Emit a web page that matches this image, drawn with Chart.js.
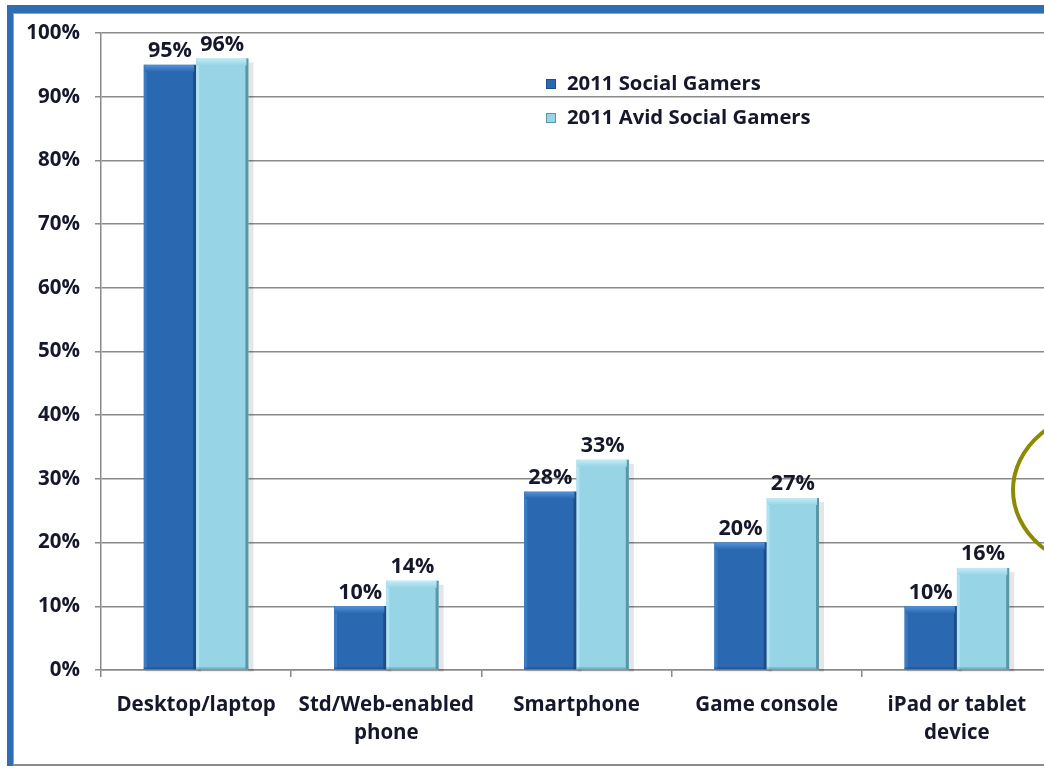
<!DOCTYPE html>
<html>
<head>
<meta charset="utf-8">
<script src="https://cdn.jsdelivr.net/npm/chart.js@4.4.0/dist/chart.umd.min.js"></script>
<style>
  html, body { margin: 0; padding: 0; background: #fff; overflow: hidden; width: 1044px; height: 768px; }
  #frame { position: absolute; left: 7px; top: 5px; width: 1100px; height: 753px;
           border-top: 8px solid #2f6db5; border-left: 6px solid #2f6db5; }
  #inner { position: absolute; left: 0; top: 0; right: 0; bottom: 0;
           border-top: 1px solid #a0a0a0; border-left: 1px solid #a0a0a0; border-bottom: 2px solid #8a8a8a; }
  #wrap { position: absolute; left: 0; top: 0; width: 1070px; height: 768px; }
</style>
</head>
<body>
<div id="frame"><div id="inner"></div></div>
<div id="wrap"><canvas id="c" width="1070" height="768"></canvas></div>
<script>
// Devices used for social gaming, share of respondents
const categories = ['Desktop/laptop', ['Std/Web-enabled', 'phone'], 'Smartphone', 'Game console', ['iPad or tablet', 'device']];
const socialGamers = [95, 10, 28, 20, 10];
const avidSocialGamers = [96, 14, 33, 27, 16];
const seriesNames = ['2011 Social Gamers', '2011 Avid Social Gamers'];
const yTickStep = 10;

const FONT = '"Open Sans", Lato, sans-serif';
const TEXT = '#15172a';
const GRID = '#8a8a8a';

const barLook = [
  { fill: '#2a69b1', top: '#5592da', edge: '#1d4c86', light: '#3a7bc4' },
  { fill: '#97d4e6', top: '#c3ecf7', edge: '#5a96a6', light: '#b0e2ef' }
];

// bevelled top, edges and drop shadow for each bar
const bevelPlugin = {
  id: 'bevel',
  beforeDatasetsDraw(chart) {
    const ctx = chart.ctx;
    ctx.save();
    chart.data.datasets.forEach((ds, di) => {
      chart.getDatasetMeta(di).data.forEach(bar => {
        const w = bar.width, l = bar.x - w / 2;
        ctx.fillStyle = 'rgba(0,0,0,0.10)';
        ctx.fillRect(l + w, bar.y + 4, 5, bar.base - bar.y - 2);
        ctx.fillStyle = 'rgba(0,0,0,0.06)';
        ctx.fillRect(l + 2, bar.base, w + 3, 3);
      });
    });
    ctx.restore();
  },
  afterDatasetsDraw(chart) {
    const ctx = chart.ctx;
    ctx.save();
    chart.data.datasets.forEach((ds, di) => {
      const look = barLook[di];
      chart.getDatasetMeta(di).data.forEach(bar => {
        const w = bar.width, l = bar.x - w / 2, t = bar.y, b = bar.base;
        // left highlight
        ctx.fillStyle = look.light;
        ctx.fillRect(l, t, 3, b - t);
        // right dark edge
        ctx.fillStyle = look.edge;
        ctx.fillRect(l + w - 3, t, 3, b - t);
        // top bevel
        const g = ctx.createLinearGradient(0, t, 0, t + 7);
        g.addColorStop(0, look.top);
        g.addColorStop(1, look.fill);
        ctx.fillStyle = g;
        ctx.fillRect(l + 1, t, w - 3, 7);
        ctx.fillStyle = look.edge;
        ctx.globalAlpha = 0.5;
        ctx.fillRect(l, b - 2, w, 2);
        ctx.globalAlpha = 1;
      });
    });
    ctx.restore();
  }
};

// value labels above bars
const valueLabels = {
  id: 'valueLabels',
  afterDatasetsDraw(chart) {
    const ctx = chart.ctx;
    ctx.save();
    ctx.font = 'bold 21.5px ' + FONT;
    ctx.fillStyle = TEXT;
    ctx.textAlign = 'center';
    ctx.textBaseline = 'bottom';
    chart.data.datasets.forEach((ds, di) => {
      chart.getDatasetMeta(di).data.forEach((bar, i) => {
        ctx.fillText(ds.data[i] + '%', bar.x, bar.y - 3);
      });
    });
    ctx.restore();
  }
};

// legend placed inside the plot
const innerLegend = {
  id: 'innerLegend',
  afterDraw(chart) {
    const ctx = chart.ctx;
    const x = 546, y0 = 84, gap = 34;
    ctx.save();
    ctx.font = 'bold 20.3px ' + FONT;
    ctx.textBaseline = 'middle';
    ctx.textAlign = 'left';
    chart.data.datasets.forEach((ds, di) => {
      const y = y0 + di * gap;
      ctx.fillStyle = barLook[di].fill;
      ctx.fillRect(x, y - 5, 10, 10);
      ctx.strokeStyle = barLook[di].edge;
      ctx.lineWidth = 1;
      ctx.strokeRect(x + 0.5, y - 4.5, 9, 9);
      ctx.fillStyle = TEXT;
      ctx.fillText(ds.label, x + 21, y);
    });
    ctx.restore();
  }
};

// olive highlight ring at the right edge
const ring = {
  id: 'ring',
  afterDraw(chart) {
    const ctx = chart.ctx;
    ctx.save();
    ctx.strokeStyle = '#8c8a00';
    ctx.lineWidth = 4;
    ctx.beginPath();
    ctx.ellipse(1110, 490, 97, 80, 0, 0, Math.PI * 2);
    ctx.stroke();
    ctx.restore();
  }
};

new Chart(document.getElementById('c'), {
  type: 'bar',
  data: {
    labels: categories,
    datasets: [
      { label: seriesNames[0], data: socialGamers, backgroundColor: barLook[0].fill, borderWidth: 0 },
      { label: seriesNames[1], data: avidSocialGamers, backgroundColor: barLook[1].fill, borderWidth: 0 }
    ]
  },
  options: {
    responsive: false,
    animation: false,
    categoryPercentage: 0.55,
    barPercentage: 1.0,
    layout: { padding: { top: 33, right: 18, left: 0, bottom: 0 } },
    plugins: { legend: { display: false }, tooltip: { enabled: false } },
    scales: {
      y: {
        min: 0, max: 100,
        ticks: { stepSize: yTickStep, callback: v => v + '%', font: { family: FONT, size: 20.5, weight: 'bold' }, color: TEXT, padding: 15 },
        grid: { color: GRID, lineWidth: 1.5, tickLength: 6 },
        border: { display: true, color: GRID, width: 1.5 },
        afterFit: s => { s.width = 101; }
      },
      x: {
        ticks: { font: { family: FONT, size: 20.5, weight: 'bold', lineHeight: 1.36 }, color: TEXT, padding: 14, maxRotation: 0, autoSkip: false },
        grid: { display: true, drawOnChartArea: false, color: GRID, lineWidth: 1.5, tickLength: 7, offset: true },
        border: { display: true, color: GRID, width: 1.5 },
        afterFit: s => { s.height = 98; }
      }
    }
  },
  plugins: [bevelPlugin, valueLabels, innerLegend, ring]
});
</script>
</body>
</html>
